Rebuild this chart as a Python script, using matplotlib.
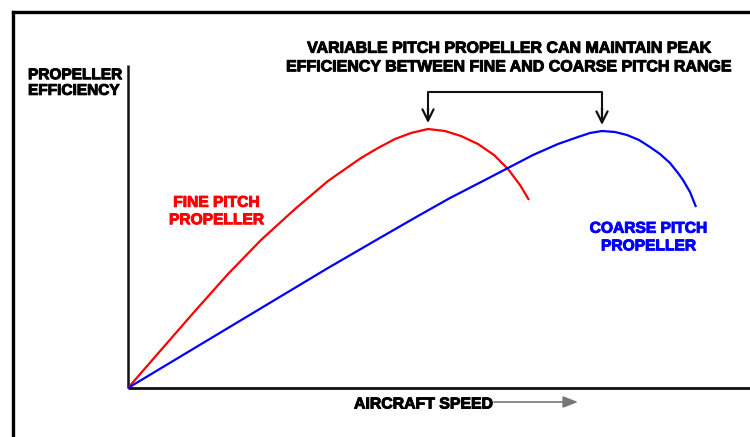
import numpy as np
import matplotlib
matplotlib.use("Agg")
import matplotlib.pyplot as plt
import matplotlib.patheffects as pe
from matplotlib.lines import Line2D

plt.rcParams['font.family'] = ['Liberation Sans', 'DejaVu Sans']

# curves (speed, efficiency) in arbitrary units
fine_speed = [0, 33, 67, 100, 133, 167, 200, 233, 250, 267, 283, 300,
              317, 333, 350, 366, 380, 392, 401]
fine_eff = [0, 38, 77, 114, 148, 179, 207, 230, 240, 249, 255, 259,
            257, 252, 244, 233, 219, 203, 188]

coarse_speed = [0, 50, 100, 150, 200, 250, 290, 322, 355, 380, 405, 430, 450,
                462, 474, 487, 499, 511, 522, 532, 542, 550, 555, 562, 568]
coarse_eff = [0, 30, 60, 90, 120, 149, 172, 190, 207, 220, 233, 244, 251,
              255, 257, 256, 253, 248, 241, 234, 225, 215, 208, 196, 181]

title_txt = "VARIABLE PITCH PROPELLER CAN MAINTAIN PEAK\nEFFICIENCY BETWEEN FINE AND COARSE PITCH RANGE"
fine_lbl = "FINE PITCH\nPROPELLER"
coarse_lbl = "COARSE PITCH\nPROPELLER"
xlab = "AIRCRAFT SPEED"
ylab = "PROPELLER\nEFFICIENCY"

fig = plt.figure(figsize=(7.5, 4.37), dpi=100)
ax = fig.add_axes([0, 0, 1, 1])
ax.set_xlim(-128, 622)
ax.set_ylim(-49, 388)
ax.axis('off')

# outer frame (top and left only)
fig.add_artist(Line2D([13/750, 1], [1-12/437, 1-12/437], color='black', lw=2.4))
fig.add_artist(Line2D([13/750, 13/750], [0, 1-12/437], color='black', lw=2.4))

# axes lines
ax.plot([0, 0], [0, 323], color='#111111', lw=1.8, solid_capstyle='butt')
ax.plot([0, 622], [0, 0], color='#111111', lw=2.0, solid_capstyle='butt')

ax.plot(fine_speed, fine_eff, color='#ff0000', lw=1.6,
        solid_joinstyle='round', solid_capstyle='butt')
ax.plot(coarse_speed, coarse_eff, color='#0000ff', lw=1.6,
        solid_joinstyle='round', solid_capstyle='butt')

# bracket pointing at both peaks
i1 = int(np.argmax(fine_eff))
i2 = int(np.argmax(coarse_eff))
x1, x2 = fine_speed[i1], coarse_speed[i2]
ytop = 296
ax.plot([x1, x1, x2, x2], [ytop - 18, ytop, ytop, ytop - 18], color='#111111', lw=1.5)
for xx, yy in [(x1, fine_eff[i1]), (x2, coarse_eff[i2])]:
    ax.annotate('', xy=(xx, yy + 6), xytext=(xx, ytop - 16),
                arrowprops=dict(arrowstyle='->,head_length=0.8,head_width=0.4',
                                color='#111111', lw=1.6, shrinkA=0, shrinkB=0))

def bold(color):
    return [pe.withStroke(linewidth=0.7, foreground=color)]

ax.text(382, 330.5, title_txt, ha='center', va='center', fontsize=11.5,
        fontweight='bold', linespacing=1.3, path_effects=bold('black'))
ax.text(-100, 305, ylab, ha='left', va='center', fontsize=11.1,
        fontweight='bold', linespacing=1.15, path_effects=bold('black'))
ax.text(88, 177, fine_lbl, ha='center', va='center', fontsize=11.2,
        fontweight='bold', color='#ff0000', linespacing=1.2,
        path_effects=bold('#ff0000'))
ax.text(520, 151, coarse_lbl, ha='center', va='center', fontsize=11.2,
        fontweight='bold', color='#0000ff', linespacing=1.22,
        path_effects=bold('#0000ff'))
ax.text(226, -16, xlab, ha='left', va='center', fontsize=11.4,
        fontweight='bold', path_effects=bold('black'))
ax.annotate('', xy=(450, -14), xytext=(366, -14),
            arrowprops=dict(arrowstyle='-|>,head_length=0.9,head_width=0.35',
                            color='#777777', lw=1.2, shrinkA=0, shrinkB=0))

fig.savefig('out.png', dpi=100)
